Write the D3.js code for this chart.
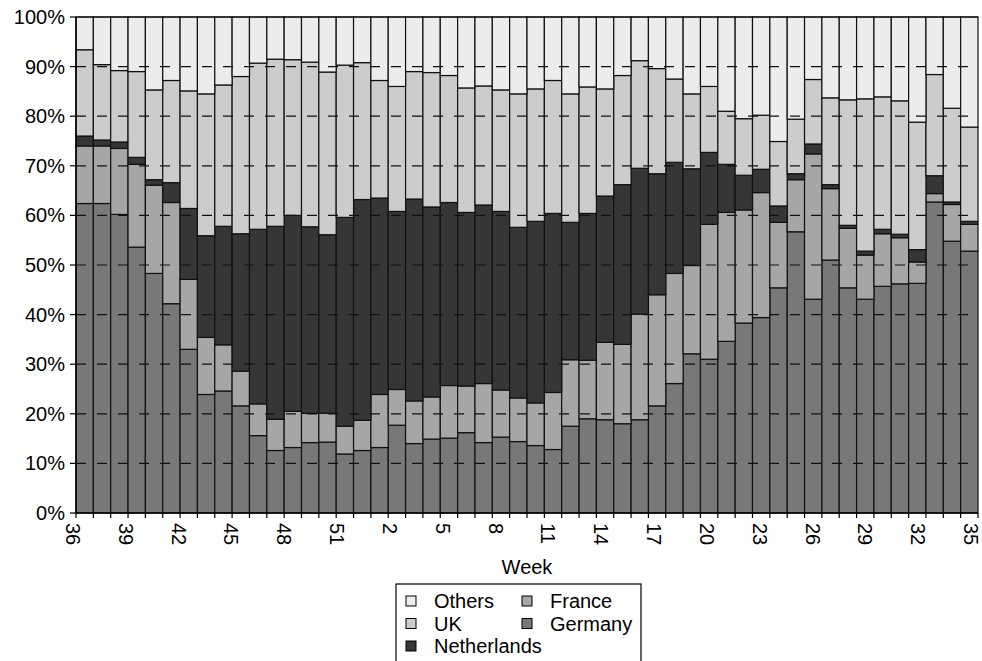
<!DOCTYPE html>
<html>
<head>
<meta charset="utf-8">
<script src="https://cdn.jsdelivr.net/npm/d3@7/dist/d3.min.js"></script>
<style>
  body { margin: 0; background: #fff; }
  text { font-family: 'Liberation Sans', Arial, sans-serif; fill: #000; }
</style>
</head>
<body>
<div id="svg-container"></div>
<script>
// Data: share of each origin per week (%), stacked bottom to top
const weeks = [36, 37, 38, 39, 40, 41, 42, 43, 44, 45, 46, 47, 48, 49, 50, 51, 52,
  1, 2, 3, 4, 5, 6, 7, 8, 9, 10, 11, 12, 13, 14, 15, 16, 17, 18, 19, 20,
  21, 22, 23, 24, 25, 26, 27, 28, 29, 30, 31, 32, 33, 34, 35]
const weekLabels = [36, 39, 42, 45, 48, 51, 2, 5, 8, 11, 14, 17, 20, 23, 26, 29, 32, 35]

const germany = [62.4, 62.4, 60.2, 53.6, 48.3, 42.2, 33.0, 23.9, 24.6, 21.6, 15.6, 12.6, 13.2,
  14.2, 14.3, 11.9, 12.6, 13.2, 17.7, 14.0, 14.9, 15.1, 16.2, 14.2, 15.3, 14.4, 13.6, 12.8,
  17.5, 19.0, 18.8, 18.0, 18.8, 21.6, 26.1, 32.1, 31.0, 34.6, 38.3, 39.4, 45.4, 56.7, 43.1,
  51.0, 45.4, 43.1, 45.7, 46.2, 46.3, 62.7, 54.8, 52.8]
const france = [11.6, 11.6, 13.3, 16.7, 17.8, 20.4, 14.1, 11.5, 9.3, 7.0, 6.4, 6.3, 7.3,
  5.9, 5.8, 5.6, 6.1, 10.7, 7.2, 8.6, 8.5, 10.6, 9.4, 11.9, 9.5, 8.8, 8.6, 11.5,
  13.4, 11.8, 15.6, 16.0, 21.3, 22.4, 22.2, 17.8, 27.2, 26.0, 22.8, 25.2, 13.2, 10.5, 29.3,
  14.4, 12.0, 8.9, 10.6, 9.3, 4.3, 1.7, 7.4, 5.4]
const netherlands = [2.0, 1.2, 1.3, 1.4, 1.1, 4.0, 14.3, 20.5, 23.9, 27.7, 35.2, 38.9, 39.5,
  37.6, 36.0, 42.1, 44.5, 39.6, 35.9, 40.7, 38.3, 36.9, 35.0, 36.0, 36.0, 34.4, 36.6, 36.1,
  27.7, 29.6, 29.5, 32.2, 29.4, 24.4, 22.4, 19.5, 14.5, 9.7, 7.0, 4.7, 3.3, 1.2, 2.0,
  0.8, 0.6, 0.8, 0.9, 0.7, 2.5, 3.6, 0.5, 0.6]
const uk = [17.4, 15.2, 14.4, 17.3, 18.1, 20.6, 23.7, 28.6, 28.5, 31.7, 33.5, 33.7, 31.4,
  33.2, 32.8, 30.7, 27.6, 23.7, 25.2, 25.7, 27.1, 25.6, 25.1, 24.0, 24.5, 26.9, 26.7, 26.8,
  25.9, 25.5, 21.6, 22.0, 21.7, 21.2, 16.8, 15.1, 13.3, 10.7, 11.4, 10.9, 13.0, 11.0, 13.0,
  17.5, 25.3, 30.7, 26.7, 26.9, 25.7, 20.4, 18.9, 19.0]
const others = [6.6, 9.6, 10.8, 11.0, 14.7, 12.8, 14.9, 15.5, 13.7, 12.0, 9.3, 8.5, 8.6,
  9.1, 11.1, 9.7, 9.2, 12.8, 14.0, 11.0, 11.2, 11.8, 14.3, 13.9, 14.7, 15.5, 14.5, 12.8,
  15.5, 14.1, 14.5, 11.8, 8.8, 10.4, 12.5, 15.5, 14.0, 19.0, 20.5, 19.8, 25.1, 20.6, 12.6,
  16.3, 16.7, 16.5, 16.1, 16.9, 21.2, 11.6, 18.4, 22.2]

const seriesNames = ['Germany', 'France', 'Netherlands', 'UK', 'Others']
const seriesValues = [germany, france, netherlands, uk, others]
const colors = {
  Germany: '#787878',
  France: '#a6a6a6',
  Netherlands: '#363636',
  UK: '#cccccc',
  Others: '#ececec',
}
const legendOrder = ['Others', 'France', 'UK', 'Germany', 'Netherlands']

// Size & margins
var svgWidth = 982,
  svgHeight = 661,
  margin = { top: 17, right: 4, bottom: 148, left: 76 }
var width = svgWidth - margin.left - margin.right,
  height = svgHeight - margin.top - margin.bottom

var svg = d3
  .select('#svg-container')
  .append('svg')
  .attr('width', svgWidth)
  .attr('height', svgHeight)

var g = svg
  .append('g')
  .attr('transform', 'translate(' + margin.left + ',' + margin.top + ')')

// table for d3.stack
const table = weeks.map((w, i) => {
  const row = { week: w, idx: i }
  seriesNames.forEach((s, j) => (row[s] = seriesValues[j][i]))
  return row
})

const stacked = d3.stack().keys(seriesNames).offset(d3.stackOffsetExpand)(table)

// Scales
var x = d3.scaleBand().domain(d3.range(weeks.length)).range([0, width]).padding(0)
// labels are spread evenly over the plot width (not on bar centres)
var xLabel = d3.scalePoint().domain(d3.range(weeks.length)).range([0, width - 4]).padding(0)
var y = d3.scaleLinear().domain([0, 1]).range([height, 0])

// Bars
g.selectAll('g.series')
  .data(stacked)
  .join('g')
  .attr('class', 'series')
  .attr('fill', d => colors[d.key])
  .selectAll('rect')
  .data(d => d)
  .join('rect')
  .attr('x', d => x(d.data.idx))
  .attr('width', x.bandwidth())
  .attr('y', d => y(d[1]))
  .attr('height', d => y(d[0]) - y(d[1]))
  .attr('stroke', '#111')
  .attr('stroke-width', 1.2)

// Gridlines (drawn over the bars)
const yTicks = d3.range(0, 1.0001, 0.1)
g.append('g')
  .selectAll('line')
  .data(yTicks.filter(t => t > 0.05 && t < 0.95))
  .join('line')
  .attr('x1', 0)
  .attr('x2', width)
  .attr('y1', d => y(d))
  .attr('y2', d => y(d))
  .attr('stroke', '#111')
  .attr('stroke-width', 1.2)
  .attr('stroke-dasharray', '10,11')

// top border
g.append('line')
  .attr('x1', 0).attr('x2', width)
  .attr('y1', 0).attr('y2', 0)
  .attr('stroke', '#000').attr('stroke-width', 1.2)

// Y axis
var yAxis = g.append('g')
yAxis.append('line')
  .attr('x1', 0).attr('x2', 0)
  .attr('y1', 0).attr('y2', height)
  .attr('stroke', '#000').attr('stroke-width', 1.5)
yAxis.selectAll('line.tick')
  .data(yTicks)
  .join('line')
  .attr('class', 'tick')
  .attr('x1', -6).attr('x2', 0)
  .attr('y1', d => y(d)).attr('y2', d => y(d))
  .attr('stroke', '#000').attr('stroke-width', 1.2)
yAxis.selectAll('text')
  .data(yTicks)
  .join('text')
  .attr('x', -11)
  .attr('y', d => y(d))
  .attr('dy', '0.35em')
  .attr('text-anchor', 'end')
  .style('font-size', '20px')
  .text(d => d3.format('.0%')(d))

// X axis
var xAxis = g.append('g').attr('transform', `translate(0, ${height})`)
xAxis.append('line')
  .attr('x1', 0).attr('x2', width)
  .attr('y1', 0).attr('y2', 0)
  .attr('stroke', '#000').attr('stroke-width', 1.5)
xAxis.selectAll('line.tick')
  .data(d3.range(weeks.length + 1))
  .join('line')
  .attr('class', 'tick')
  .attr('x1', i => (i < weeks.length ? x(i) : width))
  .attr('x2', i => (i < weeks.length ? x(i) : width))
  .attr('y1', 0).attr('y2', 5)
  .attr('stroke', '#000').attr('stroke-width', 1.2)

const labelSet = new Set(weekLabels)
xAxis.selectAll('text.wk')
  .data(table.filter((d, i) => labelSet.has(d.week) && i % 3 === 0))
  .join('text')
  .attr('class', 'wk')
  .attr('transform', d => `translate(${xLabel(d.idx) - 3}, 10) rotate(90)`)
  .attr('dy', '0.35em')
  .attr('text-anchor', 'start')
  .style('font-size', '20px')
  .text(d => d.week)

xAxis.append('text')
  .attr('x', width / 2)
  .attr('y', 61)
  .attr('text-anchor', 'middle')
  .style('font-size', '20px')
  .text('Week')

// Legend
var legend = svg.append('g').attr('transform', 'translate(396, 584)')
legend.append('rect')
  .attr('width', 245).attr('height', 90)
  .attr('fill', '#fff').attr('stroke', '#000').attr('stroke-width', 1.2)

legend.selectAll('g.item')
  .data(legendOrder)
  .join('g')
  .attr('class', 'item')
  .attr('transform', (d, i) => `translate(${i % 2 === 0 ? 10 : 126}, ${12 + Math.floor(i / 2) * 22.5})`)
  .each(function (d) {
    const it = d3.select(this)
    it.append('rect')
      .attr('width', 10).attr('height', 10)
      .attr('fill', colors[d]).attr('stroke', '#000').attr('stroke-width', 1)
    it.append('text')
      .attr('x', 28).attr('y', 5)
      .attr('dy', '0.35em')
      .style('font-size', '20px')
      .text(d)
  })
</script>
</body>
</html>
